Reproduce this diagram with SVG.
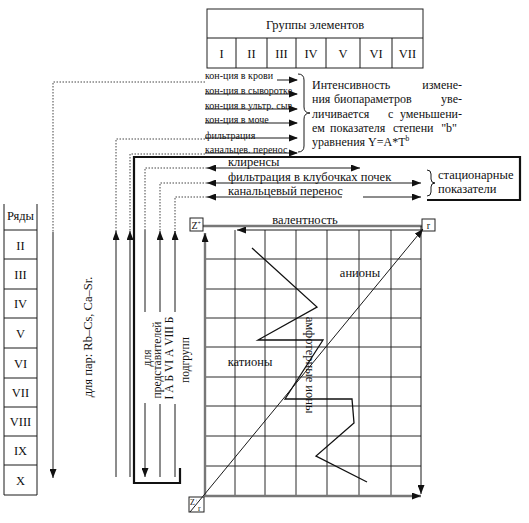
<svg xmlns="http://www.w3.org/2000/svg" width="529" height="523" viewBox="0 0 529 523">
<defs>
<style>
.t{font-family:"Liberation Serif","Times New Roman",serif;fill:#111}
.s10{font-size:10px}
.s11{font-size:11.5px}
.s12{font-size:12.5px}
.ln{stroke:#1a1a1a;stroke-width:1;fill:none}
.dot{stroke:#444;stroke-width:1;stroke-dasharray:1.5 1.5;fill:none}
.thk{stroke:#111;stroke-width:2.2;fill:none}
.ax{stroke:#777;stroke-width:2.4;fill:none}
.grid{stroke:#2a2a2a;stroke-width:1}
.box{fill:#fff;stroke:#222;stroke-width:1}
.zz{stroke:#111;stroke-width:1.3;fill:none;stroke-linejoin:miter}
</style>
<marker id="ah" viewBox="0 0 9 7" refX="9" refY="3.5" markerWidth="9" markerHeight="7" markerUnits="userSpaceOnUse" orient="auto-start-reverse"><path d="M0,0 L9,3.5 L0,7 z" fill="#111"/></marker>
</defs>
<rect width="529" height="523" fill="#fff"/>

<g id="groups-table">
<rect class="box" x="207" y="9" width="216" height="59"/>
<line class="ln" x1="207" y1="38" x2="423" y2="38"/>
<path class="ln" d="M236,38V68M267,38V68M296,38V68M326,38V68M360,38V68M392,38V68"/>
<text class="t s12" x="315" y="29" text-anchor="middle">Группы элементов</text>
<g class="t s12" text-anchor="middle">
<text x="221.5" y="58">I</text><text x="251.5" y="58">II</text><text x="281.5" y="58">III</text><text x="311" y="58">IV</text><text x="343" y="58">V</text><text x="376" y="58">VI</text><text x="407.5" y="58">VII</text>
</g>
</g>

<g id="rows-table">
<path class="ln" d="M4,204V495M37,204V495M4,230H37M4,259H37M4,289H37M4,318H37M4,348H37M4,378H37M4,407H37M4,436H37M4,465H37M4,495H37"/>
<g class="t s12" text-anchor="middle">
<text x="20.5" y="220">Ряды</text>
<text x="20.5" y="249.5">II</text><text x="20.5" y="278.5">III</text><text x="20.5" y="308">IV</text><text x="20.5" y="337.5">V</text><text x="20.5" y="367.5">VI</text><text x="20.5" y="397">VII</text><text x="20.5" y="426">VIII</text><text x="20.5" y="455">IX</text><text x="20.5" y="484.5">X</text>
</g>
</g>

<g id="params-list">
<g class="t s10">
<text x="205" y="79">кон-ция в крови</text>
<text x="205" y="94">кон-ция в сыворотке</text>
<text x="205" y="109">кон-ция в ультр. сыв</text>
<text x="205" y="123">кон-ция в моче</text>
<text x="205" y="139">фильтрация</text>
<text x="205" y="153">канальцев. перенос</text>
</g>
<path class="ln" d="M277,80H297M205,94H297M205,109H297M205,123H297M205,138H297M205,153H297"/>
<path fill="#111" d="M289,76.5L298,80L289,83.5zM289,90.5L298,94L289,97.5zM289,105.5L298,109L289,112.5zM289,119.5L298,123L289,126.5zM289,134.5L298,138L289,141.5zM289,149.5L298,153L289,156.5z"/>
<path class="ln" d="M298,74q6,0 6,6v27q0,6 6,6q-6,0 -6,6v27q0,6 -6,6"/>
</g>

<g id="intensity-note" class="t" font-size="12">
<text x="312" y="89">Интенсивность</text><text x="462" y="89" text-anchor="end">измене-</text>
<text x="312" y="103.3">ния</text><text x="334" y="103.3">биопараметров</text><text x="462" y="103.3" text-anchor="end">уве-</text>
<text x="312" y="117.5">личивается</text><text x="388" y="117.5">с</text><text x="462" y="117.5" text-anchor="end">уменьшени-</text>
<text x="312" y="131.8">ем</text><text x="330" y="131.8">показателя</text><text x="393" y="131.8">степени</text><text x="457" y="131.8" text-anchor="end">"b"</text>
<text x="312" y="146">уравнения Y=A*T<tspan font-size="7.5" dy="-5">b</tspan></text>
</g>

<g id="stationary-params">
<g class="t s12">
<text x="228" y="166">клиренсы</text>
<text x="228" y="181">фильтрация в клубочках почек</text>
<text x="228" y="195">канальцевый перенос</text>
<text x="438" y="179">стационарные</text>
<text x="438" y="193">показатели</text>
</g>
<line class="ln" x1="207" y1="168" x2="360" y2="168" marker-start="url(#ah)" marker-end="url(#ah)"/>
<line class="ln" x1="207" y1="183" x2="421" y2="183" marker-start="url(#ah)" marker-end="url(#ah)"/>
<line class="ln" x1="207" y1="197" x2="342" y2="197" marker-start="url(#ah)"/>
<line class="ln" x1="363" y1="197" x2="421" y2="197" marker-end="url(#ah)"/>
<path class="ln" d="M427,170q4,0 4,4v5q0,4 4,4q-4,0 -4,4v5q0,4 -4,4"/>
</g>

<g id="chart">
<path class="grid" d="M235,230V496M265,230V496M296,230V496M327,230V496M359,230V496M391,230V496"/>
<path class="grid" d="M205,259H421M205,289H421M205,318H421M205,347H421M205,377H421M205,406H421M205,436H421M205,466H421"/>
<line class="ax" x1="203" y1="226" x2="422" y2="226"/>
<line class="ax" x1="205" y1="497" x2="205" y2="233" marker-end="url(#ah)"/>
<line class="ax" x1="204" y1="496" x2="421" y2="496" marker-end="url(#ah)"/>
<line class="ln" x1="421" y1="226" x2="421" y2="494" marker-end="url(#ah)"/>
<line class="ln" x1="422" y1="230" x2="237" y2="230" marker-end="url(#ah)"/>
<text class="t s12" x="305" y="224" text-anchor="middle">валентность</text>
<rect class="box" x="190" y="218" width="13" height="13"/>
<text class="t" font-size="10" x="191.5" y="229">Z<tspan font-size="6" dy="-4.5">+</tspan></text>
<rect class="box" x="422" y="219" width="13" height="12"/>
<text class="t" font-size="10" x="428.5" y="228.5" text-anchor="middle">r</text>
<rect class="box" x="189" y="497" width="15" height="15"/>
<text class="t" font-size="8" x="190" y="505">Z<tspan font-size="5" dy="-3">+</tspan></text>
<text class="t" font-size="8" x="198" y="511">r</text>
<line class="ln" x1="190" y1="512" x2="423" y2="229" stroke-width="1.3" marker-end="url(#ah)"/>
<polyline class="zz" points="252,248 317,307 258,340 323,340 285,399 352,399 354,423 316,456 367,482"/>
<text class="t s12" x="360" y="277" text-anchor="middle">анионы</text>
<text class="t s12" x="250" y="366" text-anchor="middle">катионы</text>
<text class="t s12" transform="translate(306,365) rotate(90)" text-anchor="middle">амфотерные ионы</text>
</g>

<g id="left-labels" class="t s11" text-anchor="middle">
<text class="s12" transform="translate(92,337) rotate(-90)">для пар: Rb–Cs, Ca–Sr.</text>
<text transform="translate(151,358) rotate(-90)">для</text>
<text transform="translate(161,360) rotate(-90)">представителей</text>
<text transform="translate(173,358) rotate(-90)">I А Б VI А VIII Б</text>
<text transform="translate(189,360) rotate(-90)">подгрупп</text>
</g>

<g id="connectors">
<polyline class="dot" points="205,82 53,82 53,232"/>
<line class="ln" x1="53" y1="232" x2="53" y2="478" marker-end="url(#ah)"/>
<polyline class="dot" points="205,139 116,139 116,232"/>
<line class="ln" x1="116" y1="477" x2="116" y2="231" marker-end="url(#ah)"/>
<polyline class="dot" points="205,154 130,154 130,232"/>
<line class="ln" x1="130" y1="477" x2="130" y2="231" marker-end="url(#ah)"/>
<path class="thk" d="M180,468V483H134V157H520V200H427"/>
<polyline class="dot" points="207,168 145,168 145,230"/>
<line class="ln" x1="145" y1="230" x2="145" y2="312"/>
<line class="ln" x1="145" y1="403" x2="145" y2="477" marker-end="url(#ah)"/>
<polyline class="dot" points="207,183 160,183 160,232"/>
<line class="ln" x1="160" y1="477" x2="160" y2="404"/>
<line class="ln" x1="160" y1="312" x2="160" y2="231" marker-end="url(#ah)"/>
<polyline class="dot" points="207,197 175,197 175,232"/>
<line class="ln" x1="175" y1="477" x2="175" y2="404"/>
<line class="ln" x1="175" y1="312" x2="175" y2="231" marker-end="url(#ah)"/>
</g>
</svg>
